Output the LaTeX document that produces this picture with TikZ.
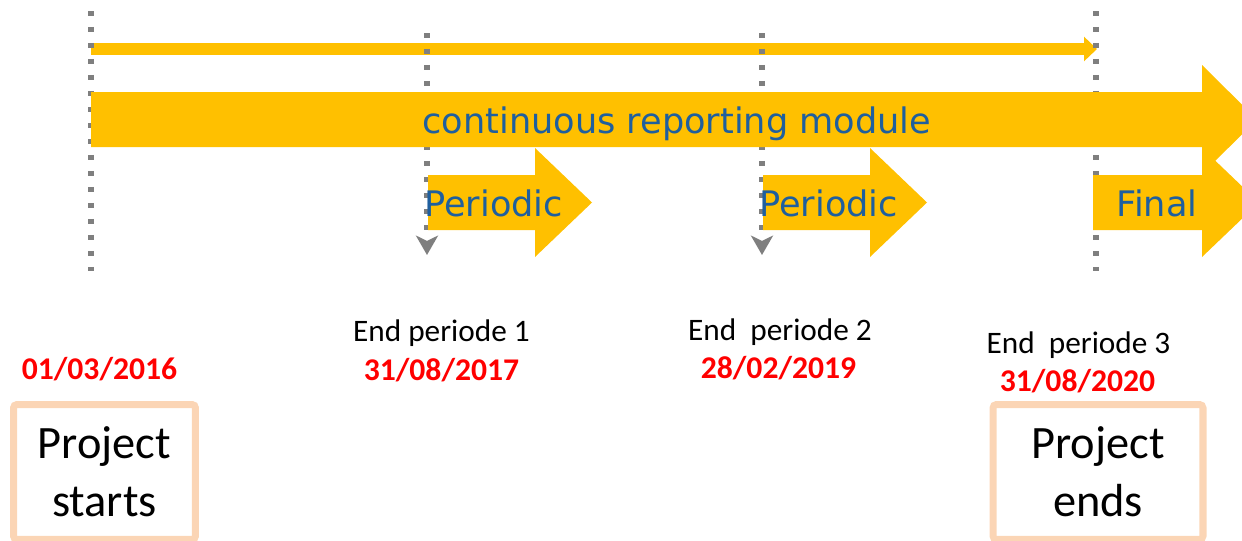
\documentclass[tikz,border=0pt]{standalone}
\usepackage{fontspec}
\setmainfont{Carlito}
\newfontfamily\verdanafont{DejaVu Sans}
\usetikzlibrary{arrows.meta}
\definecolor{tlyellow}{HTML}{FFC000}
\definecolor{tlblue}{HTML}{1F5F9E}
\definecolor{tlgray}{HTML}{7F7F7F}
\definecolor{tlpeach}{HTML}{FBD5B5}
\definecolor{tlred}{HTML}{FF0000}
\tikzset{
  tlgrid/.style={tlgray, line width=3.4pt, dash pattern=on 2.8pt off 6.3pt},
  tlgridend/.style={tlgrid, -{Stealth[length=11pt, width=12.5pt, inset=3pt]}},
  tlthin/.style={tlyellow, line width=6.8pt, -{Triangle[length=7.4pt, width=13.6pt]}},
  tlblock/.style={fill=tlyellow},
  tlmodule/.style={font=\verdanafont\fontsize{20}{24}\selectfont, text=tlblue, inner sep=0pt},
  tlperiod/.style={font=\fontsize{17.8}{21}\selectfont, inner sep=0pt},
  tldate/.style={font=\bfseries\fontsize{18}{21}\selectfont, text=tlred, inner sep=0pt},
  tlproject/.style={draw=tlpeach, line width=4pt, rounded corners=2pt, align=center,
    inner sep=0pt, font=\fontsize{26.4}{32.9}\selectfont},
}

\begin{document}
\begin{tikzpicture}[x=0.02cm, y=-0.02cm]
  \useasboundingbox (0,0) rectangle (1242,541);
  \clip (0,0) rectangle (1242,541);

  % Time marks (start, end of period 1 and 2, end).
  \coordinate (tstart) at (91,11);
  \coordinate (tstartb) at (91,271);
  \coordinate (tend) at (1096,11);
  \coordinate (tendb) at (1096,271);
  \coordinate (tp1) at (427,33);
  \coordinate (tp1b) at (427,255);
  \coordinate (tp2) at (762,33);
  \coordinate (tp2b) at (762,255);

  % Thin arrow over the whole project.
  \coordinate (thina) at (91,49);
  \coordinate (thinb) at (1097,49);
  \draw[tlthin] (thina) -- (thinb);

  % Dotted time marks.
  \draw[tlgrid] (tstart) -- (tstartb);
  \draw[tlgrid] (tend) -- (tendb);
  \draw[tlgridend] (tp1) -- (tp1b);
  \draw[tlgridend] (tp2) -- (tp2b);

  % Block arrows.
  \fill[tlblock] (91,92) -- (1202,92) -- (1202,65) -- (1257,119.5)
    -- (1202,174) -- (1202,147) -- (91,147) -- cycle;
  \node[tlmodule, anchor=base west] (module) at (422,133) {continuous reporting module};

  \foreach \xs/\xb/\xt/\txt [count=\i] in {428/535/424/Periodic, 763/870/759/Periodic, 1093/1202/1116/Final} {
    \fill[tlblock] (\xs,175) -- (\xb,175) -- (\xb,148) -- (\xb+57,202.5)
      -- (\xb,257) -- (\xb,230) -- (\xs,230) -- cycle;
    \node[tlmodule, anchor=base west] (report\i) at (\xt,216) {\txt};
  }

  % Period labels and dates.
  \node[tldate, anchor=base] (dstart) at (99.5,379) {01/03/2016};
  \node[tlperiod, anchor=base] (end1) at (441.5,341) {End periode 1};
  \node[tldate, anchor=base] (d1) at (441.5,380) {31/08/2017};
  \node[tlperiod, anchor=base] (end2) at (780,340) {End\ \ periode 2};
  \node[tldate, anchor=base] (d2) at (778.5,378) {28/02/2019};
  \node[tlperiod, anchor=base] (end3) at (1078.5,353) {End\ \ periode 3};
  \node[tldate, anchor=base] (d3) at (1077.5,391) {31/08/2020};

  % Project boxes.
  \node[tlproject, minimum width=3.64cm, minimum height=2.7cm] (pstart) at (104.5,472) {Project\\starts};
  \node[tlproject, minimum width=4.2cm, minimum height=2.7cm] (pend) at (1098,472) {Project\\ends};
\end{tikzpicture}
\end{document}
